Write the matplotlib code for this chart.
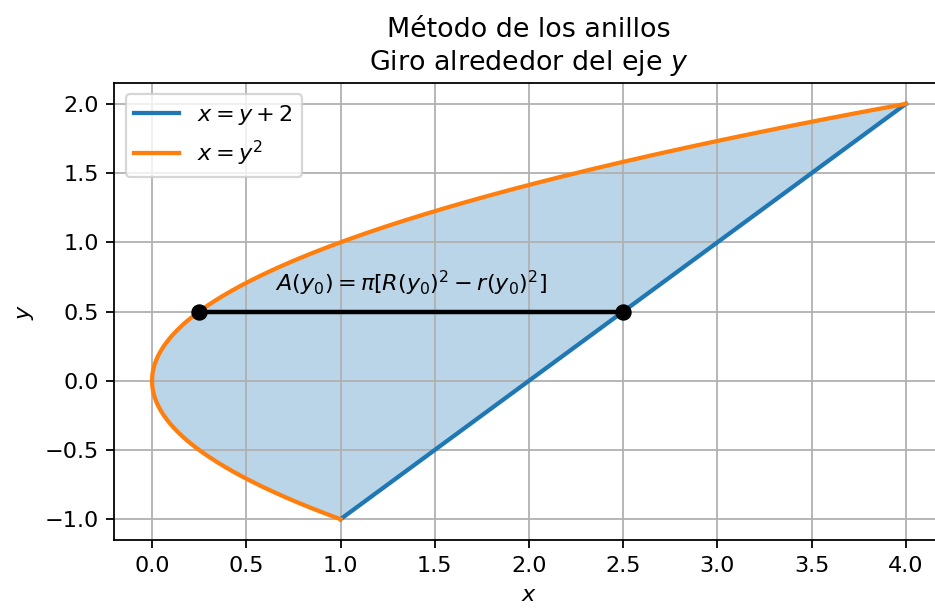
import numpy as np
import matplotlib
matplotlib.use("Agg")
import matplotlib.pyplot as plt

# region between x = y + 2 and x = y^2, for y in [-1, 2]
Y_MIN, Y_MAX = -1.0, 2.0
y0 = 0.5                      # slice height
slice_x = [0.25, 2.5]         # inner radius r(y0) = y0^2, outer R(y0) = y0 + 2
slice_y = [y0, y0]
label_pos = (0.65, 0.65)

y = np.linspace(Y_MIN, Y_MAX, 400)
x_line = y + 2
x_parab = y ** 2

DPI = 161
fig = plt.figure(figsize=(935 / DPI, 610 / DPI), dpi=DPI)
ax = fig.add_axes([0.1223, 0.1148, 0.8869, 0.749])

ax.plot(x_line, y, lw=1.9, label="$x = y + 2$")
ax.plot(x_parab, y, lw=1.9, label="$x = y^2$")
ax.fill_betweenx(y, x_parab, x_line, alpha=0.3)

ax.plot(slice_x, slice_y, color="k", lw=2)
ax.scatter(slice_x, slice_y, color="k", s=40, zorder=5)
ax.text(*label_pos, r"$A(y_0) = \pi[R(y_0)^2 - r(y_0)^2]$")

ax.set_title("Método de los anillos\nGiro alrededor del eje $y$")
ax.set_xlabel("$x$")
ax.set_ylabel("$y$")
ax.grid(True)
ax.legend(loc="upper left")

fig.savefig("out.png", dpi=DPI)
